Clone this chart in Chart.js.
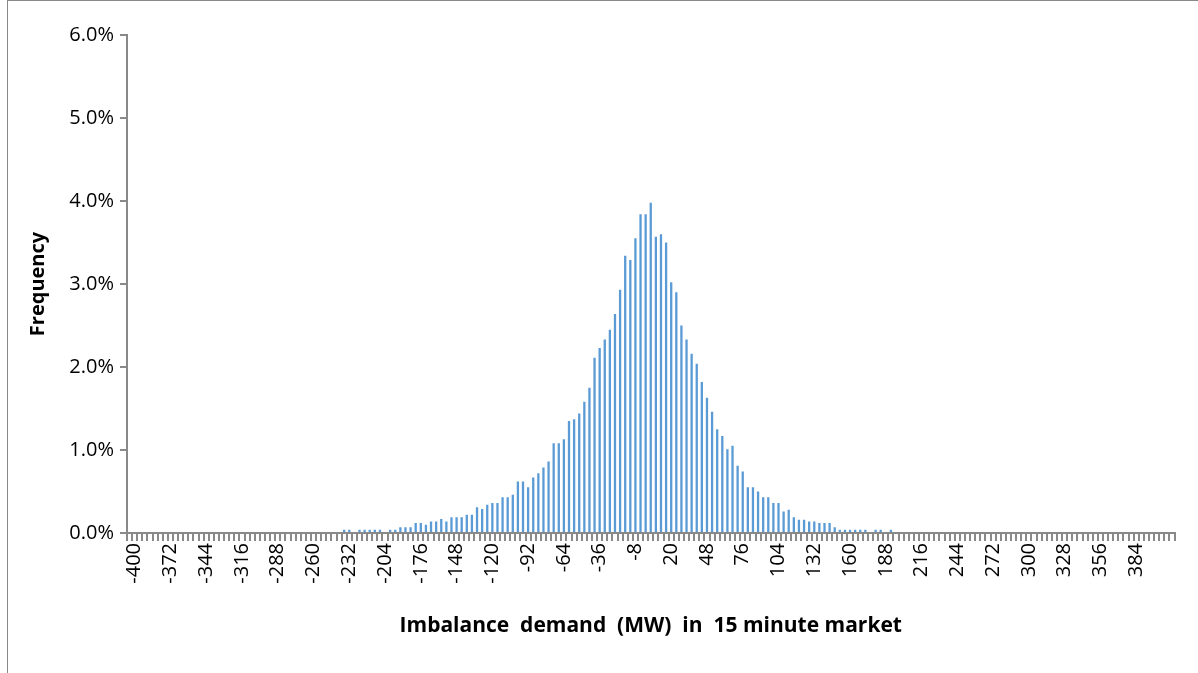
<!DOCTYPE html>
<html>
<head>
<meta charset="utf-8">
<script src="https://cdn.jsdelivr.net/npm/chart.js@4"></script>
<style>
  body { margin: 0; background: #fff; }
  #wrap { width: 1198px; height: 673px; position: relative; }
  #frame { position: absolute; left: 7px; top: 0; width: 1200px; height: 680px; border: 1px solid #898989; box-sizing: border-box; }
  canvas { position: absolute; left: 0; top: 0; }
</style>
</head>
<body>
<div id="wrap">
  <div id="frame"></div>
  <canvas id="grafico" width="1198" height="673"></canvas>
</div>
<script>
// Categorias: -404 a 412 MW, passo 4
const categorias = [];
for (let v = -404; v <= 412; v += 4) categorias.push(v);

// Frequência (%) por categoria
const caudaZero = new Array(42).fill(0);
const caudaEsquerda = [0.04, 0.04, 0, 0.04, 0.04, 0.04, 0.04, 0.04, 0, 0.04, 0.04, 0.07, 0.07, 0.07, 0.12, 0.12, 0.10, 0.14, 0.14, 0.17,
  0.14, 0.19, 0.19, 0.19, 0.22, 0.22, 0.31, 0.29, 0.34, 0.36, 0.36, 0.43, 0.43, 0.46, 0.62, 0.62, 0.55, 0.67];
const centro = [0.72, 0.79, 0.86, 1.08, 1.08, 1.13, 1.35, 1.37, 1.44, 1.58, 1.75, 2.11, 2.23, 2.33, 2.45, 2.64, 2.93, 3.34, 3.29, 3.55,
  3.84, 3.84, 3.98, 3.57, 3.60, 3.50, 3.02, 2.90, 2.50, 2.33, 2.16, 2.04, 1.82, 1.63, 1.46, 1.25, 1.17, 1.01, 1.05, 0.81, 0.74, 0.55, 0.55];
const caudaDireita = [0.50, 0.43, 0.43, 0.36, 0.36, 0.26, 0.28, 0.19, 0.16, 0.16, 0.14, 0.14, 0.12, 0.12, 0.12, 0.07, 0.04, 0.04, 0.04, 0.04,
  0.04, 0.04, 0, 0.04, 0.04, 0, 0.04];
const caudaZeroFim = new Array(55).fill(0);
const frequencias = caudaZero.concat(caudaEsquerda, centro, caudaDireita, caudaZeroFim);

const fonte = "'Open Sans', 'Liberation Sans', sans-serif";
const cinza = '#898989';

new Chart(document.getElementById('grafico'), {
  type: 'bar',
  data: {
    labels: categorias,
    datasets: [{
      data: frequencias,
      backgroundColor: '#5B9BD5',
      barPercentage: 0.45,
      categoryPercentage: 1.0
    }]
  },
  options: {
    responsive: false,
    animation: false,
    layout: { padding: { left: 22, right: 16, top: 35, bottom: 30 } },
    plugins: { legend: { display: false }, tooltip: { enabled: false } },
    scales: {
      x: {
        grid: { display: true, drawOnChartArea: false, drawTicks: true, tickLength: 8, color: cinza, lineWidth: 2 },
        border: { color: cinza, width: 2 },
        ticks: {
          autoSkip: false, maxRotation: 90, minRotation: 90, padding: 2,
          color: '#000', font: { family: fonte, size: 20 },
          callback: function (val, i) { return (i - 1) % 7 === 0 && categorias[i] < 400 ? categorias[i] : ''; }
        },
        title: { display: true, text: 'Imbalance  demand  (MW)  in  15 minute market', color: '#000',
          font: { family: fonte, size: 21, weight: 'bold' }, padding: { top: 0 } },
        afterFit: function (s) { s.height = 110; }
      },
      y: {
        min: 0, max: 6,
        grid: { display: true, drawOnChartArea: false, drawTicks: true, tickLength: 7, color: cinza, lineWidth: 2 },
        border: { color: cinza, width: 2 },
        ticks: { stepSize: 1, color: '#000', font: { family: fonte, size: 20 }, padding: 6,
          callback: function (v) { return v.toFixed(1) + '%'; } },
        title: { display: true, text: 'Frequency', color: '#000',
          font: { family: fonte, size: 20, weight: 'bold' }, padding: { bottom: 4 } },
        afterFit: function (s) { s.width = 105; }
      }
    }
  }
});
</script>
</body>
</html>
